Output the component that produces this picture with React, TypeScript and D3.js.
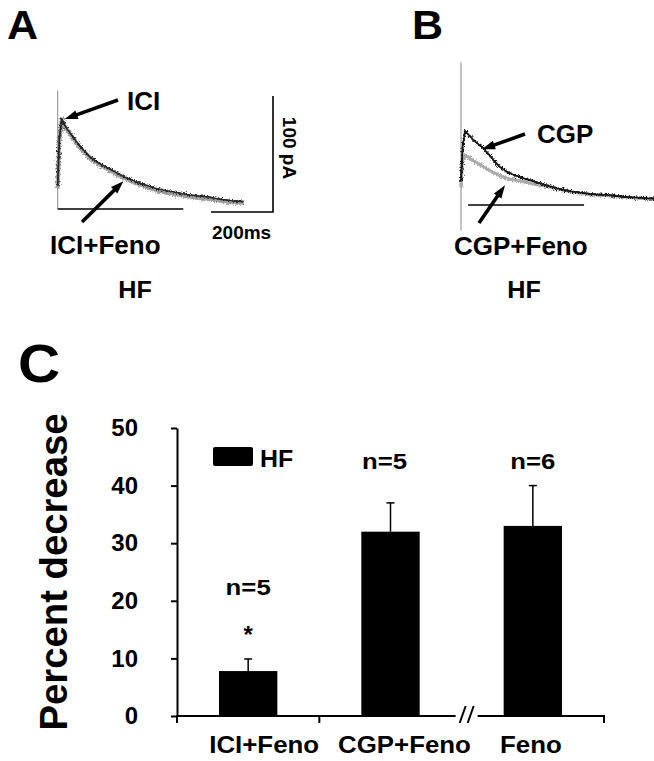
import React, { useRef, useEffect } from 'react';
import * as d3 from 'd3';

// Panel A: ICI current traces (time in ms, current in pA)
const iciTime = [0, 5, 13, 25, 50, 75, 104, 130, 158, 185, 212, 240, 265, 292, 319, 346, 373, 400, 427, 454, 481, 508, 534, 560, 580, 599];
const iciCurrent = [20, 60, 78, 71, 62, 53, 45, 40, 36, 32, 28, 25, 22, 20, 17.6, 16, 14.7, 13.2, 12, 11.2, 10.6, 9.2, 8, 7.2, 6.8, 6.3];
const iciFenoCurrent = [18, 58, 77, 70, 61, 52, 44, 39, 35, 31, 27, 23.5, 21, 18.5, 16, 14.5, 13, 11.8, 10.5, 9.5, 8.8, 7.8, 6.8, 6, 5.5, 5];
const transientA = [0, 102];
const zeroLineA = [0, 405];

// Panel B: CGP current traces
const cgpTime = [0, 5, 13, 40, 72, 104, 125, 147, 175, 201, 228, 255, 282, 309, 335, 362, 389, 416, 443, 470, 497, 524, 560, 599, 640];
const cgpCurrent = [20, 50, 64, 56, 49, 39, 33, 28.7, 25.5, 23, 21, 18.7, 16.5, 14.4, 13, 11.5, 10.5, 9.5, 9, 8.6, 7.9, 7.2, 6.5, 5.8, 5.5];
const cgpFenoCurrent = [15, 38, 43, 38, 33, 28, 25.5, 23, 21.5, 20, 18.5, 17, 15.5, 14, 12.5, 11, 10, 9, 8.5, 8, 7.5, 6.8, 6.2, 5.5, 5];
const transientB = [-22, 123];
const zeroLineB = [23, 397];

// Panel C: percent decrease
const categories = ['ICI+Feno', 'CGP+Feno', 'Feno'];
const percentDecrease = [7.8, 32, 33];
const sem = [2.1, 5, 7];
const nLabels = ['n=5', 'n=5', 'n=6'];
const marks = ['*', '', ''];
const yTicks = [0, 10, 20, 30, 40, 50];

const FONT = '"Liberation Sans", Arial, Helvetica, sans-serif';

const App = () => {
  const ref = useRef<SVGSVGElement>(null);

  useEffect(() => {
    const svg = d3.select(ref.current);
    svg.selectAll('*').remove();
    svg.attr('width', 654).attr('height', 761)
      .style('font-family', FONT)
      .style('font-weight', 'bold');

    svg.append('rect').attr('width', 654).attr('height', 761).attr('fill', '#fff');

    // noisy look for the recorded traces
    const defs = svg.append('defs');
    const filter = defs.append('filter')
      .attr('id', 'noisy')
      .attr('filterUnits', 'userSpaceOnUse')
      .attr('x', 0).attr('y', 0).attr('width', 654).attr('height', 330);
    filter.append('feTurbulence')
      .attr('type', 'fractalNoise')
      .attr('baseFrequency', '0.9 0.7')
      .attr('numOctaves', 2)
      .attr('seed', 7)
      .attr('result', 'n');
    filter.append('feDisplacementMap')
      .attr('in', 'SourceGraphic')
      .attr('in2', 'n')
      .attr('scale', 6)
      .attr('xChannelSelector', 'R')
      .attr('yChannelSelector', 'G');

    // text helper; sx widens the glyphs a little like the original figure
    const label = (x: number, y: number, t: string, size: number, anchor = 'start', sx = 1) =>
      svg.append('text')
        .attr('transform', `translate(${x},${y}) scale(${sx},1)`)
        .attr('text-anchor', anchor)
        .style('font-size', size + 'px')
        .attr('fill', '#000')
        .text(t);

    // thick arrow with a solid head at (x2, y2)
    const arrow = (x1: number, y1: number, x2: number, y2: number) => {
      const a = Math.atan2(y2 - y1, x2 - x1);
      const len = 13, half = 4.5;
      const bx = x2 - len * Math.cos(a), by = y2 - len * Math.sin(a);
      svg.append('line')
        .attr('x1', x1).attr('y1', y1)
        .attr('x2', bx + 2 * Math.cos(a)).attr('y2', by + 2 * Math.sin(a))
        .attr('stroke', '#000').attr('stroke-width', 3.6);
      const px = -Math.sin(a) * half, py = Math.cos(a) * half;
      svg.append('path')
        .attr('d', `M${x2},${y2}L${bx + px},${by + py}L${bx - px},${by - py}Z`)
        .attr('fill', '#000');
    };

    // draws a trace twice: a clean core plus a jittered copy for the recording noise
    const trace = (d: string | null, color: string, w: number) => {
      svg.append('path').attr('d', d)
        .attr('fill', 'none').attr('stroke', color).attr('stroke-width', w * 0.8)
        .attr('stroke-linejoin', 'round');
      svg.append('path').attr('d', d)
        .attr('filter', 'url(#noisy)')
        .attr('fill', 'none').attr('stroke', color).attr('stroke-width', w)
        .attr('stroke-linejoin', 'round');
    };

    // Panel letters
    label(7, 39, 'A', 41, 'start', 1.05);
    label(412, 39, 'B', 41, 'start', 1.05);
    label(18, 382, 'C', 53, 'start', 1.1);

    // ---------- Panel A ----------
    const xA = d3.scaleLinear().domain([0, 200]).range([57.7, 119.7]);
    const yA = d3.scaleLinear().domain([0, 100]).range([209, 93]);
    const lineA = (vals: number[]) => d3.line<number>()
      .x((d, i) => xA(iciTime[i]))
      .y(d => yA(d))(vals);

    svg.append('line')
      .attr('x1', xA(0)).attr('x2', xA(0))
      .attr('y1', yA(transientA[0])).attr('y2', yA(transientA[1]))
      .attr('stroke', '#8a8a8a').attr('stroke-width', 1);
    svg.append('line')
      .attr('x1', xA(zeroLineA[0])).attr('x2', xA(zeroLineA[1]))
      .attr('y1', yA(0)).attr('y2', yA(0))
      .attr('stroke', '#000').attr('stroke-width', 1.6);

    trace(lineA(iciFenoCurrent), '#a0a0a0', 4.2);
    trace(lineA(iciCurrent), '#262626', 1.7);

    // scale bar
    const sbX = 273, sbY = 212;
    svg.append('path')
      .attr('d', `M${sbX - (xA(200) - xA(0))},${sbY}H${sbX}V${sbY - (yA(0) - yA(100))}`)
      .attr('fill', 'none').attr('stroke', '#000').attr('stroke-width', 1.6);
    label(212, 239, '200ms', 19);
    svg.append('text')
      .attr('transform', `translate(283,${sbY - (yA(0) - yA(100)) / 2 - 6}) rotate(90)`)
      .attr('text-anchor', 'middle')
      .style('font-size', '19px')
      .text('100 pA');

    label(127, 110, 'ICI', 26);
    arrow(118, 100, xA(13) + 3, yA(78) + 0.5);
    label(50, 254, 'ICI+Feno', 26);
    arrow(82, 222, xA(212), yA(24));
    label(135, 298, 'HF', 24, 'middle', 1.05);

    // ---------- Panel B ----------
    const xB = d3.scaleLinear().domain([0, 200]).range([461, 523]);
    const yB = d3.scaleLinear().domain([0, 100]).range([205, 89]);
    const lineB = (vals: number[]) => d3.line<number>()
      .x((d, i) => xB(cgpTime[i]))
      .y(d => yB(d))(vals);

    svg.append('line')
      .attr('x1', xB(0)).attr('x2', xB(0))
      .attr('y1', yB(transientB[0])).attr('y2', yB(transientB[1]))
      .attr('stroke', '#8a8a8a').attr('stroke-width', 1);
    svg.append('line')
      .attr('x1', xB(zeroLineB[0])).attr('x2', xB(zeroLineB[1]))
      .attr('y1', yB(0)).attr('y2', yB(0))
      .attr('stroke', '#000').attr('stroke-width', 1.6);

    trace(lineB(cgpFenoCurrent), '#ababab', 3.2);
    trace(lineB(cgpCurrent), '#181818', 2);

    label(537, 143, 'CGP', 26);
    arrow(525, 134, xB(68), yB(48));
    label(454, 255, 'CGP+Feno', 26);
    arrow(479, 223, xB(142), yB(17));
    label(524, 298, 'HF', 24, 'middle', 1.05);

    // ---------- Panel C ----------
    const x = d3.scaleBand()
      .domain(categories)
      .range([177, 604])
      .paddingInner(0.59)
      .paddingOuter(0.295);
    const y = d3.scaleLinear().domain([0, 50]).range([716, 428]);
    const bw = x.bandwidth();
    const step = x.step();
    const bandEdge = (i: number) => (x(categories[i]) as number) + bw + step * 0.295;

    const yAxis = svg.append('g')
      .attr('transform', 'translate(177,0)')
      .call(d3.axisLeft(y).tickValues(yTicks).tickSize(6).tickSizeOuter(0).tickPadding(33).tickFormat(d3.format('d')));
    yAxis.select('.domain').attr('stroke', '#000').attr('stroke-width', 2);
    yAxis.selectAll('.tick line').attr('stroke', '#000').attr('stroke-width', 2);
    yAxis.selectAll('.tick text')
      .attr('fill', '#000')
      .style('font-family', FONT)
      .style('font-weight', 'bold')
      .style('font-size', '24px');

    // x axis with a break between the 2nd and 3rd groups
    const x0 = 177, x1 = 604;
    const brk = bandEdge(1) + 5;
    svg.append('line').attr('x1', x0 - 1).attr('x2', brk - 11).attr('y1', y(0)).attr('y2', y(0))
      .attr('stroke', '#000').attr('stroke-width', 2);
    svg.append('line').attr('x1', brk + 11).attr('x2', x1 + 1).attr('y1', y(0)).attr('y2', y(0))
      .attr('stroke', '#000').attr('stroke-width', 2);
    [-4, 4].forEach(o => {
      svg.append('line')
        .attr('x1', brk + o - 3).attr('y1', y(0) + 7)
        .attr('x2', brk + o + 3).attr('y2', y(0) - 10)
        .attr('stroke', '#000').attr('stroke-width', 2);
    });
    [x0, bandEdge(0), x1].forEach(tx => {
      svg.append('line').attr('x1', tx).attr('x2', tx).attr('y1', y(0)).attr('y2', y(0) + 7)
        .attr('stroke', '#000').attr('stroke-width', 2);
    });

    // bars
    svg.selectAll('.bar')
      .data(categories)
      .join('rect')
      .attr('class', 'bar')
      .attr('x', d => x(d) as number)
      .attr('width', bw)
      .attr('y', (d, i) => y(percentDecrease[i]))
      .attr('height', (d, i) => y(0) - y(percentDecrease[i]))
      .attr('fill', '#000');

    // error bars (upper only)
    categories.forEach((c, i) => {
      const cx = (x(c) as number) + bw / 2;
      const top = y(percentDecrease[i] + sem[i]);
      svg.append('line').attr('x1', cx).attr('x2', cx)
        .attr('y1', y(percentDecrease[i])).attr('y2', top)
        .attr('stroke', '#000').attr('stroke-width', 1.5);
      svg.append('line').attr('x1', cx - 4).attr('x2', cx + 4)
        .attr('y1', top).attr('y2', top)
        .attr('stroke', '#000').attr('stroke-width', 1.5);
    });

    // n labels and significance marks
    const plainTop = d3.min(categories.map((c, i) => marks[i] ? Infinity : y(percentDecrease[i] + sem[i]))) as number;
    categories.forEach((c, i) => {
      const cx = (x(c) as number) + bw / 2;
      if (marks[i]) {
        const starY = y(percentDecrease[i] + sem[i]) - 16;
        label(cx, starY, marks[i], 24, 'middle');
        label(cx, starY - 48, nLabels[i], 23, 'middle', 1.12);
      } else {
        label(cx - (i === 1 ? 6 : 0), plainTop - 17, nLabels[i], 23, 'middle', 1.12);
      }
    });

    // category labels
    const labelShift = [16, 14, -2];
    categories.forEach((c, i) => {
      label((x(c) as number) + bw / 2 + labelShift[i], 753, c, 23.5, 'middle', 1.1);
    });

    // legend
    svg.append('rect').attr('x', 213).attr('y', 447).attr('width', 40).attr('height', 19).attr('rx', 2).attr('fill', '#000');
    label(260, 467, 'HF', 23.5, 'start', 1.06);

    // y title
    svg.append('text')
      .attr('transform', `translate(67,${(y(0) + y(50)) / 2}) rotate(-90)`)
      .attr('text-anchor', 'middle')
      .attr('textLength', 317)
      .attr('lengthAdjust', 'spacingAndGlyphs')
      .style('font-size', '38px')
      .text('Percent decrease');
  }, []);

  return <svg ref={ref} style={{ position: 'absolute', left: 0, top: 0 }}></svg>;
};

export default App;
